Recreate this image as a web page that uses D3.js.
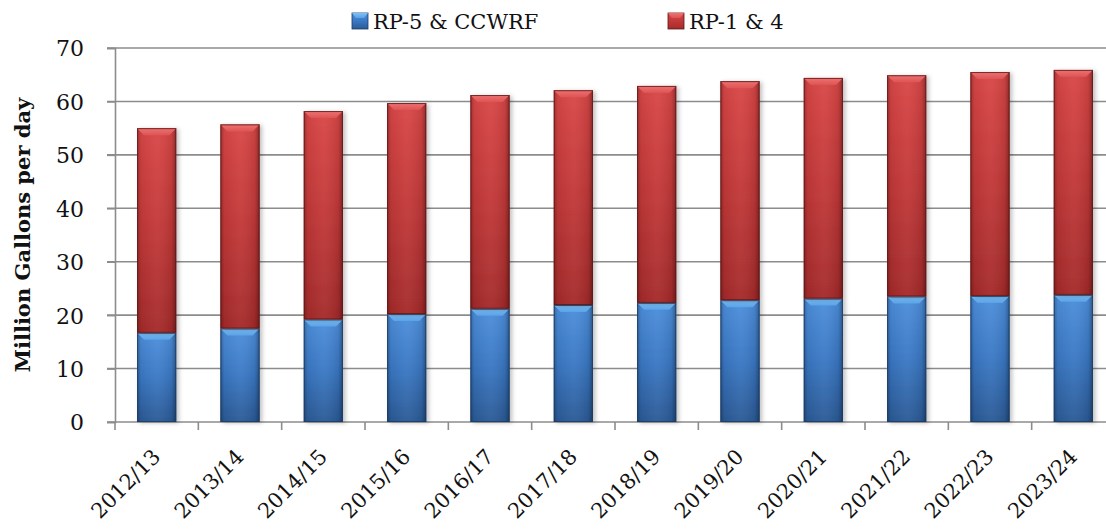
<!DOCTYPE html>
<html>
<head>
<meta charset="utf-8">
<script src="https://cdn.jsdelivr.net/npm/d3@7"></script>
<style>
  html, body { margin: 0; padding: 0; background: #fff; }
  svg { display: block; }
</style>
</head>
<body>
<svg id="chart" width="1106" height="529"></svg>
<script>
const categories = ["2012/13","2013/14","2014/15","2015/16","2016/17","2017/18","2018/19","2019/20","2020/21","2021/22","2022/23","2023/24"];
const rp5ccwrf = [16.7, 17.5, 19.2, 20.2, 21.2, 21.9, 22.3, 22.8, 23.1, 23.5, 23.6, 23.8];
const rp14 = [38.3, 38.2, 39.0, 39.5, 40.0, 40.2, 40.6, 41.0, 41.3, 41.4, 41.9, 42.1];
const seriesNames = ["RP-5 & CCWRF", "RP-1 & 4"];
const yTicks = [0, 10, 20, 30, 40, 50, 60, 70];
const yTitle = "Million Gallons per day";

const svg = d3.select("#chart");
const plot = { left: 115, right: 1115, top: 48, bottom: 422 };

const x = d3.scaleBand().domain(categories).range([plot.left, plot.right])
  .paddingInner(0.53).paddingOuter(0.265);
const y = d3.scaleLinear().domain([0, 70]).range([plot.bottom, plot.top]);

const rows = categories.map((c, i) => ({ cat: c, a: rp5ccwrf[i], b: rp14[i] }));
const stacked = d3.stack().keys(["a", "b"])(rows);

const palettes = [
  { top: "#4d8fdc", mid: "#3a78c4", bot: "#2b5a96", bevel: "#7cc0f6", bevel2: "#5aa2e8", stroke: "#1c3a62" },
  { top: "#d94646", mid: "#c23838", bot: "#a52b2b", bevel: "#ee7272", bevel2: "#de5454", stroke: "#5c1616" }
];

const defs = svg.append("defs");
palettes.forEach((p, i) => {
  const g = defs.append("linearGradient").attr("id", "body" + i).attr("x1", 0).attr("y1", 0).attr("x2", 0).attr("y2", 1);
  g.append("stop").attr("offset", "0%").attr("stop-color", p.top);
  g.append("stop").attr("offset", "50%").attr("stop-color", p.mid);
  g.append("stop").attr("offset", "100%").attr("stop-color", p.bot);
  const bv = defs.append("linearGradient").attr("id", "bevel" + i).attr("x1", 0).attr("y1", 0).attr("x2", 0).attr("y2", 1);
  bv.append("stop").attr("offset", "0%").attr("stop-color", p.bevel);
  bv.append("stop").attr("offset", "100%").attr("stop-color", p.bevel2);
});
const side = defs.append("linearGradient").attr("id", "side").attr("x1", 0).attr("y1", 0).attr("x2", 1).attr("y2", 0);
side.append("stop").attr("offset", "0%").attr("stop-color", "#000").attr("stop-opacity", 0.28);
side.append("stop").attr("offset", "10%").attr("stop-color", "#000").attr("stop-opacity", 0.05);
side.append("stop").attr("offset", "50%").attr("stop-color", "#fff").attr("stop-opacity", 0.04);
side.append("stop").attr("offset", "88%").attr("stop-color", "#000").attr("stop-opacity", 0.08);
side.append("stop").attr("offset", "100%").attr("stop-color", "#000").attr("stop-opacity", 0.35);
const shadow = defs.append("filter").attr("id", "shadow").attr("x", "-20%").attr("y", "-5%").attr("width", "150%").attr("height", "115%");
shadow.append("feDropShadow").attr("dx", 2.5).attr("dy", 1).attr("stdDeviation", 2).attr("flood-color", "#000").attr("flood-opacity", 0.25);

const gridColor = "#8c8c8c";
const fontSerif = "'DejaVu Serif', 'Liberation Serif', serif";

// gridlines
svg.append("g").selectAll("line").data(yTicks.filter(t => t > 0)).join("line")
  .attr("x1", plot.left - 8).attr("x2", plot.right)
  .attr("y1", d => y(d)).attr("y2", d => y(d))
  .attr("stroke", gridColor).attr("stroke-width", 1.6);

// y axis
const yAxis = svg.append("g").attr("transform", `translate(${plot.left},0)`)
  .call(d3.axisLeft(y).tickValues(yTicks).tickSize(8).tickPadding(23).tickFormat(d3.format("d")));
yAxis.select(".domain").attr("stroke", gridColor).attr("stroke-width", 1.6);
yAxis.selectAll(".tick line").attr("stroke", gridColor).attr("stroke-width", 1.6);
yAxis.selectAll(".tick text").attr("font-family", fontSerif).attr("font-size", 22).attr("fill", "#111").attr("dy", "0.36em");

// x axis line and boundary ticks
svg.append("line").attr("x1", plot.left - 8).attr("x2", plot.right)
  .attr("y1", y(0)).attr("y2", y(0)).attr("stroke", gridColor).attr("stroke-width", 1.6);
const step = x.step();
const boundaries = categories.map(c => x(c) - (step - x.bandwidth()) / 2).concat([plot.right]);
svg.append("g").selectAll("line").data(boundaries).join("line")
  .attr("x1", d => d).attr("x2", d => d)
  .attr("y1", y(0)).attr("y2", y(0) + 8)
  .attr("stroke", gridColor).attr("stroke-width", 1.6);

// x labels
const xAxis = svg.append("g").attr("transform", `translate(0,${y(0)})`)
  .call(d3.axisBottom(x).tickSize(0).tickFormat(d => d));
xAxis.select(".domain").remove();
xAxis.selectAll(".tick text")
  .attr("font-family", fontSerif).attr("font-size", 21).attr("fill", "#111")
  .attr("text-anchor", "end").attr("x", 0).attr("y", 0).attr("dy", 0)
  .attr("transform", "translate(5,36) rotate(-45)");

// bars
const bevel = 7;
stacked.forEach((s, si) => {
  const p = palettes[si];
  const g = svg.append("g");
  const bars = g.selectAll("g").data(s).join("g");
  bars.append("rect")
    .attr("x", d => x(d.data.cat)).attr("width", x.bandwidth())
    .attr("y", d => y(d[1])).attr("height", d => y(d[0]) - y(d[1]))
    .attr("fill", `url(#body${si})`).attr("filter", "url(#shadow)");
  bars.append("rect")
    .attr("x", d => x(d.data.cat)).attr("width", x.bandwidth())
    .attr("y", d => y(d[1])).attr("height", d => y(d[0]) - y(d[1]))
    .attr("fill", "url(#side)");
  bars.append("polygon")
    .attr("points", d => {
      const x0 = x(d.data.cat), x1 = x0 + x.bandwidth(), t = y(d[1]);
      return [[x0, t], [x1, t], [x1 - bevel, t + bevel], [x0 + bevel, t + bevel]].map(q => q.join(",")).join(" ");
    })
    .attr("fill", `url(#bevel${si})`);
  bars.append("rect")
    .attr("x", d => x(d.data.cat) + 0.5).attr("width", x.bandwidth() - 1)
    .attr("y", d => y(d[1]) + 0.5).attr("height", d => y(d[0]) - y(d[1]) - 1)
    .attr("fill", "none").attr("stroke", p.stroke).attr("stroke-width", 1).attr("stroke-opacity", 0.8);
});

// legend
const legendItems = [
  { name: seriesNames[0], i: 0, xPos: 352 },
  { name: seriesNames[1], i: 1, xPos: 668 }
];
const lg = svg.append("g").selectAll("g").data(legendItems).join("g")
  .attr("transform", d => `translate(${d.xPos},13)`);
lg.append("rect").attr("width", 16).attr("height", 16)
  .attr("fill", d => `url(#body${d.i})`).attr("stroke", d => palettes[d.i].stroke).attr("stroke-width", 0.8);
lg.append("polygon").attr("points", "0,0 16,0 12,5 4,5").attr("fill", d => `url(#bevel${d.i})`);
lg.append("text").attr("x", 21).attr("y", 16)
  .attr("font-family", fontSerif).attr("font-size", 21).attr("fill", "#111")
  .text(d => d.name);

// y title
svg.append("text")
  .attr("transform", `translate(30,${(plot.top + plot.bottom) / 2}) rotate(-90)`)
  .attr("text-anchor", "middle")
  .attr("font-family", fontSerif).attr("font-weight", "bold").attr("font-size", 21).attr("fill", "#111")
  .text(yTitle);
</script>
</body>
</html>
